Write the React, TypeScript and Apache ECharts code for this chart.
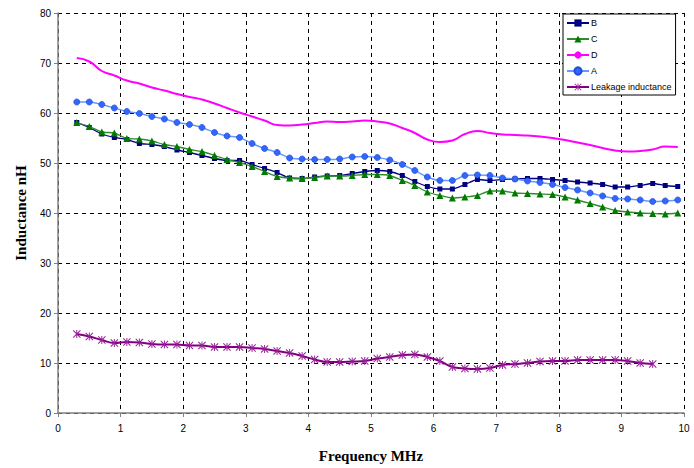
import React, { useEffect, useRef } from "react";
import * as echarts from "echarts";

const freq = [
  0.3, 0.5, 0.7, 0.9, 1.1, 1.3, 1.5, 1.7, 1.9, 2.1, 2.3, 2.5, 2.7, 2.9, 3.1, 3.3, 3.5,
  3.7, 3.9, 4.1, 4.3, 4.5, 4.7, 4.9, 5.1, 5.3, 5.5, 5.7, 5.9, 6.1, 6.3, 6.5, 6.7,
  6.9, 7.1, 7.3, 7.5, 7.7, 7.9, 8.1, 8.3, 8.5, 8.7, 8.9, 9.1, 9.3, 9.5, 9.7, 9.9,
];

const seriesB = [
  58.1, 57.1, 55.8, 55.1, 54.7, 53.9, 53.7, 53.3, 52.6, 52.1, 51.5, 50.9, 50.5, 50.5, 49.7, 48.9, 48.1,
  47.0, 46.9, 47.2, 47.4, 47.5, 47.9, 48.3, 48.5, 48.3, 47.5, 46.3, 45.3, 44.8, 44.8, 45.7, 46.7,
  46.5, 46.7, 46.8, 46.9, 46.9, 46.7, 46.5, 46.2, 46.0, 45.7, 45.2, 45.2, 45.5, 45.9, 45.5, 45.3,
];

const seriesC = [
  58.1, 57.3, 56.2, 56.0, 54.9, 54.8, 54.4, 53.7, 53.3, 52.7, 52.3, 51.5, 50.7, 50.1, 49.3, 48.3, 47.3,
  47.0, 46.9, 47.1, 47.4, 47.4, 47.5, 47.7, 47.7, 47.5, 46.5, 45.5, 44.2, 43.5, 43.0, 43.2, 43.5,
  44.4, 44.4, 44.0, 43.9, 43.8, 43.7, 43.2, 42.6, 41.9, 41.2, 40.5, 40.2, 40.0, 39.9, 39.8, 40.0,
];

const seriesD = [
  71.0, 70.3, 68.4, 67.5, 66.5, 65.9, 65.1, 64.5, 63.8, 63.2, 62.7, 61.9, 61.0, 60.1, 59.3, 58.5, 57.6,
  57.5, 57.7, 58.0, 58.3, 58.2, 58.3, 58.5, 58.3, 57.9, 57.0, 56.0, 54.7, 54.2, 54.5, 55.8, 56.4,
  56.0, 55.7, 55.6, 55.5, 55.3, 55.0, 54.6, 54.1, 53.6, 53.0, 52.5, 52.3, 52.4, 52.7, 53.3, 53.2,
];

const seriesA = [
  62.2, 62.2, 61.7, 61.0, 60.3, 59.9, 59.3, 58.8, 58.1, 57.7, 57.1, 56.1, 55.4, 55.1, 53.9, 52.9, 52.1,
  51.0, 50.8, 50.7, 50.7, 50.8, 51.2, 51.3, 51.1, 50.6, 49.7, 48.5, 47.2, 46.5, 46.5, 47.5, 47.6,
  47.5, 47.0, 46.8, 46.4, 46.1, 45.7, 45.1, 44.6, 44.0, 43.4, 42.9, 42.8, 42.6, 42.3, 42.4, 42.6,
];

const seriesLeak = [
  15.8, 15.3, 14.6, 14.0, 14.2, 14.1, 13.8, 13.7, 13.7, 13.5, 13.5, 13.2, 13.2, 13.2, 13.0, 12.8, 12.4,
  12.0, 11.4, 10.7, 10.2, 10.2, 10.3, 10.4, 10.9, 11.2, 11.6, 11.7, 11.2, 10.4, 9.2, 8.9, 8.8,
  9.0, 9.6, 9.8, 10.0, 10.3, 10.4, 10.4, 10.6, 10.6, 10.6, 10.6, 10.4, 10.0, 9.8,
];

const seriesNames = ["B", "C", "D", "A", "Leakage inductance"];

const pairs = (vals: number[]) => vals.map((v, i) => [freq[i], v]);

const asterisk =
  "path://M4.4,0L5.6,0L5.6,10L4.4,10Z M0,0.9L0.9,0L10,9.1L9.1,10Z M9.1,0L10,0.9L0.9,10L0,9.1Z";

export default function App() {
  const ref = useRef<HTMLDivElement>(null);
  useEffect(() => {
    if (!ref.current) return;
    const chart = echarts.init(ref.current, undefined, { renderer: "svg" });
    const labelFont = { fontFamily: "Liberation Sans, Arial, sans-serif", fontSize: 10, color: "#000" };
    chart.setOption({
      animation: false,
      backgroundColor: "#fff",
      grid: { left: 58, right: 10, top: 13, bottom: 54, containLabel: false },
      legend: {
        orient: "vertical",
        left: 563,
        top: 14,
        data: seriesNames,
        itemWidth: 22,
        itemHeight: 9,
        itemGap: 6,
        padding: [4, 4, 3, 3],
        backgroundColor: "#fff",
        borderColor: "#000",
        borderWidth: 1,
        borderRadius: 0,
        textStyle: { fontFamily: "Liberation Sans, Arial, sans-serif", fontSize: 9, color: "#000", lineHeight: 10, padding: [0, 0, 0, -3] },
      },
      xAxis: {
        type: "value",
        min: 0,
        max: 10,
        interval: 1,
        name: "Frequency MHz",
        nameLocation: "middle",
        nameGap: 35,
        nameTextStyle: { fontFamily: "Liberation Serif, Times New Roman, serif", fontWeight: "bold", fontSize: 15, color: "#000" },
        axisLine: { lineStyle: { color: "#808080", width: 1.5 } },
        axisTick: { show: true, length: 4, lineStyle: { color: "#808080" } },
        axisLabel: { ...labelFont, margin: 10 },
        splitLine: { show: true, lineStyle: { color: "#000", type: [4, 4], width: 1 } },
      },
      yAxis: {
        type: "value",
        min: 0,
        max: 80,
        interval: 10,
        name: "Inductance nH",
        nameLocation: "middle",
        nameRotate: 90,
        nameGap: 30,
        nameTextStyle: { fontFamily: "Liberation Serif, Times New Roman, serif", fontWeight: "bold", fontSize: 15, color: "#000" },
        axisLine: { show: true, lineStyle: { color: "#808080", width: 1.5 } },
        axisTick: { show: true, length: 4, lineStyle: { color: "#808080" } },
        axisLabel: { ...labelFont, margin: 7 },
        splitLine: { show: true, lineStyle: { color: "#000", type: [4, 4], width: 1 } },
      },
      series: [
        {
          name: "B",
          type: "line",
          data: pairs(seriesB),
          symbol: "rect",
          symbolSize: 5,
          smooth: 0.2,
          lineStyle: { color: "#000080", width: 1.3 },
          itemStyle: { color: "#000080" },
          z: 3,
        },
        {
          name: "C",
          type: "line",
          data: pairs(seriesC),
          symbol: "triangle",
          symbolSize: 7,
          smooth: 0.2,
          lineStyle: { color: "#2e8b2e", width: 1.3 },
          itemStyle: { color: "#007a00" },
          z: 4,
        },
        {
          name: "D",
          type: "line",
          data: pairs(seriesD),
          symbol: "none",
          smooth: 0.5,
          lineStyle: { color: "#ff00ff", width: 2 },
          itemStyle: { color: "#ff00ff" },
          z: 2,
        },
        {
          name: "A",
          type: "line",
          data: pairs(seriesA),
          symbol: "circle",
          symbolSize: 6,
          smooth: 0.2,
          lineStyle: { color: "#6699ff", width: 1.5 },
          itemStyle: { color: "#3366ff", borderColor: "#1f4fd8", borderWidth: 0.8 },
          z: 3,
        },
        {
          name: "Leakage inductance",
          type: "line",
          data: pairs(seriesLeak),
          symbol: asterisk,
          symbolSize: 8,
          smooth: 0.4,
          lineStyle: { color: "#800080", width: 2 },
          itemStyle: { color: "#99229a" },
          z: 3,
        },
      ],
    });
    return () => chart.dispose();
  }, []);
  return <div ref={ref} style={{ width: 694, height: 468, position: "absolute", left: 0, top: 0 }} />;
}
